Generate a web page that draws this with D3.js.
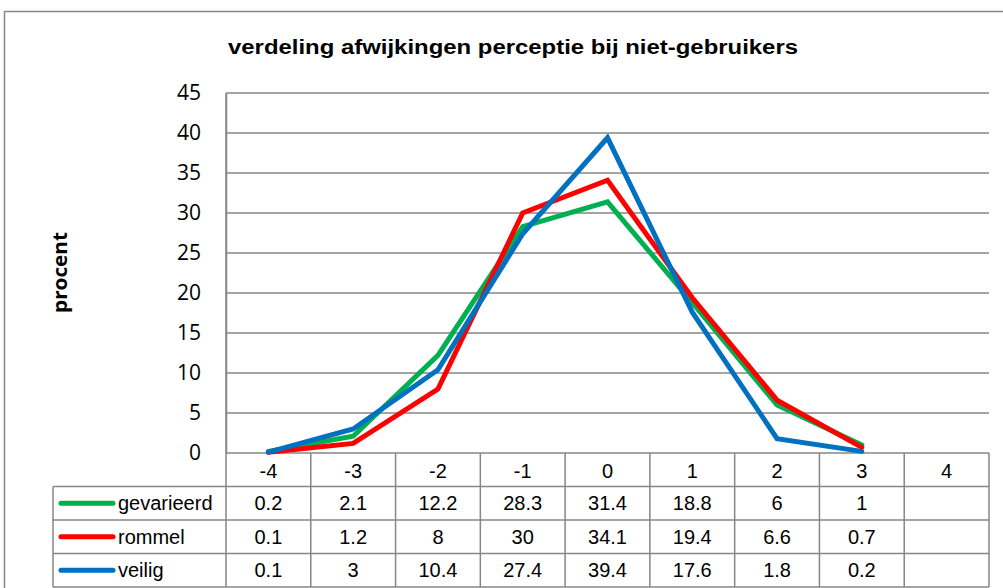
<!DOCTYPE html>
<html>
<head>
<meta charset="utf-8">
<script src="https://cdn.jsdelivr.net/npm/d3@7"></script>
<style>
  body { margin: 0; background: #fff; }
  svg { display: block; }
</style>
</head>
<body>
<div id="chart"></div>
<script>
// Data
const categories = ["-4", "-3", "-2", "-1", "0", "1", "2", "3", "4"];
const seriesNames = ["gevarieerd", "rommel", "veilig"];
const gevarieerd = [0.2, 2.1, 12.2, 28.3, 31.4, 18.8, 6, 1];
const rommel = [0.1, 1.2, 8, 30, 34.1, 19.4, 6.6, 0.7];
const veilig = [0.1, 3, 10.4, 27.4, 39.4, 17.6, 1.8, 0.2];
const yTicks = [0, 5, 10, 15, 20, 25, 30, 35, 40, 45];

const seriesColors = ["#00b050", "#ff0000", "#0070c0"];
const seriesValues = [gevarieerd, rommel, veilig];

// Dimensions
const width = 1003, height = 588;
const plot = { left: 226, right: 989, top: 93, bottom: 453 };
const rowH = 33.5;
const legendLeft = 53;

const svg = d3.select("#chart")
  .append("svg")
  .attr("width", width)
  .attr("height", height);

// outer chart border
svg.append("rect")
  .attr("x", 4.5).attr("y", 11.5)
  .attr("width", 1010).attr("height", 600)
  .attr("fill", "none")
  .attr("stroke", "#868686")
  .attr("stroke-width", 1.5);

const x = d3.scaleBand().domain(categories).range([plot.left, plot.right]);
const y = d3.scaleLinear().domain([0, 45]).range([plot.bottom, plot.top]);

// Title
svg.append("text")
  .attr("x", 513).attr("y", 54)
  .attr("text-anchor", "middle")
  .style("font-family", "'Liberation Sans', Arial, sans-serif")
  .style("font-weight", "bold")
  .style("font-size", "20px")
  .attr("textLength", 570)
  .attr("lengthAdjust", "spacingAndGlyphs")
  .text("verdeling afwijkingen perceptie bij niet-gebruikers");

// Y axis title
svg.append("text")
  .attr("transform", `translate(67,272.5) rotate(-90)`)
  .attr("text-anchor", "middle")
  .style("font-family", "'Open Sans', 'Liberation Sans', sans-serif")
  .style("font-weight", "bold")
  .style("font-size", "20px")
  .attr("textLength", 81)
  .attr("lengthAdjust", "spacingAndGlyphs")
  .text("procent");

// Gridlines
svg.append("g")
  .selectAll("line")
  .data(yTicks.filter(d => d > 0))
  .join("line")
  .attr("x1", plot.left).attr("x2", plot.right)
  .attr("y1", d => y(d)).attr("y2", d => y(d))
  .attr("stroke", "#868686")
  .attr("stroke-width", 1.5);

// Y axis
const yAxis = svg.append("g")
  .attr("transform", `translate(${plot.left},0)`)
  .call(d3.axisLeft(y).tickValues(yTicks).tickSize(0).tickPadding(25));
yAxis.select(".domain").attr("stroke", "#868686").attr("stroke-width", 1.5);
yAxis.selectAll("text")
  .style("font-family", "'Open Sans', 'Liberation Sans', sans-serif")
  .style("font-size", "21px")
  .attr("fill", "#000");

// Data table grid
const tableBottom = plot.bottom + rowH * 4;
const grid = svg.append("g")
  .attr("stroke", "#868686")
  .attr("stroke-width", 1.5)
  .attr("fill", "none");

// vertical band boundaries (table + plot area)
const bounds = categories.map(c => x(c)).concat([plot.right]);
grid.selectAll("line.v")
  .data(bounds)
  .join("line")
  .attr("class", "v")
  .attr("x1", d => d).attr("x2", d => d)
  .attr("y1", (d, i) => (i === 0 ? plot.top : plot.bottom))
  .attr("y2", tableBottom);

// horizontal rows
const rowLines = [0, 1, 2, 3, 4].map(i => plot.bottom + i * rowH);
grid.selectAll("line.h")
  .data(rowLines)
  .join("line")
  .attr("class", "h")
  .attr("x1", (d, i) => (i === 0 ? plot.left : legendLeft))
  .attr("x2", plot.right)
  .attr("y1", d => d).attr("y2", d => d);

grid.append("line")
  .attr("x1", legendLeft).attr("x2", legendLeft)
  .attr("y1", plot.bottom + rowH).attr("y2", tableBottom);

const tableFont = "'Liberation Sans', Arial, sans-serif";

// header row: category labels
svg.append("g")
  .selectAll("text")
  .data(categories)
  .join("text")
  .attr("x", d => x(d) + x.bandwidth() / 2)
  .attr("y", plot.bottom + rowH / 2 + 1)
  .attr("dy", "0.35em")
  .attr("text-anchor", "middle")
  .style("font-family", tableFont)
  .style("font-size", "20px")
  .text(d => d);

// rows with series values
seriesNames.forEach((name, si) => {
  const rowY = plot.bottom + rowH * (si + 1) + rowH / 2;
  const row = svg.append("g");

  row.append("line")
    .attr("x1", legendLeft + 8).attr("x2", legendLeft + 60)
    .attr("y1", rowY).attr("y2", rowY)
    .attr("stroke", seriesColors[si])
    .attr("stroke-width", 5)
    .attr("stroke-linecap", "round");

  row.append("text")
    .attr("x", legendLeft + 65).attr("y", rowY)
    .attr("dy", "0.35em")
    .style("font-family", tableFont)
    .style("font-size", "20px")
    .text(name);

  row.selectAll("text.val")
    .data(seriesValues[si])
    .join("text")
    .attr("class", "val")
    .attr("x", (d, i) => x(categories[i]) + x.bandwidth() / 2)
    .attr("y", rowY)
    .attr("dy", "0.35em")
    .attr("text-anchor", "middle")
    .style("font-family", tableFont)
    .style("font-size", "20px")
    .text(d => d);
});

// Lines
const line = d3.line()
  .x((d, i) => x(categories[i]) + x.bandwidth() / 2)
  .y(d => y(d));

svg.append("g")
  .selectAll("path")
  .data(seriesValues)
  .join("path")
  .attr("d", d => line(d))
  .attr("fill", "none")
  .attr("stroke", (d, i) => seriesColors[i])
  .attr("stroke-width", 5)
  .attr("stroke-linejoin", "miter")
  .attr("stroke-linecap", "round");
</script>
</body>
</html>
